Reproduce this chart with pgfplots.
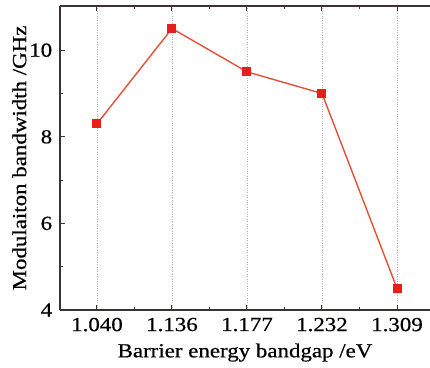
\documentclass[border=0pt]{standalone}
\usepackage{pgfplots}
\pgfplotsset{compat=1.18}
\usepackage{fontspec}
\setmainfont[FakeStretch=1.15, FakeBold=0.6]{Liberation Serif}
\definecolor{lineC}{RGB}{228,80,55}
\definecolor{markC}{RGB}{232,30,30}
\definecolor{axC}{RGB}{60,50,50}
\begin{document}
\fontsize{20}{23}\selectfont
\begin{tikzpicture}
\useasboundingbox (-60bp,-58bp) rectangle (370bp,310bp);
\begin{axis}[
  at={(0,0)}, anchor=south west,
  scale only axis, width=370bp, height=304bp,
  xmin=-0.493, xmax=4.44,
  ymin=4, ymax=11.02,
  axis x line=box, axis y line=left,
  axis line style={axC, line width=1.3pt, -},
  xtick={0,1,2,3,4},
  xticklabels={1.040,1.136,1.177,1.232,1.309},
  ytick={4,6,8,10},
  minor x tick num=1, minor y tick num=1,
  tick align=inside,
  major tick length=5bp, minor tick length=3.5bp,
  every tick/.style={axC, line width=1pt},
  xmajorgrids,
  grid style={gray!60, dotted, line width=0.8pt},
  /pgf/number format/assume math mode=true,
  tick label style={font=\fontsize{20}{23}\selectfont},
  label style={font=\fontsize{20}{23}\selectfont},
  xlabel={Barrier energy bandgap /eV},
  ylabel={Modulaiton bandwidth /GHz},
  xlabel style={at={(axis description cs:0.5,-0.14)}, anchor=center},
  ylabel style={at={(axis description cs:-0.11,0.5)}, anchor=center, rotate=0},
  xticklabel style={yshift=-1bp},
  yticklabel style={xshift=-1bp},
  clip=false,
]
\addplot[color=lineC, line width=1.4pt, mark=square*, mark size=3.8bp,
  mark options={fill=markC, draw=markC}]
  coordinates {(0,8.3) (1,10.5) (2,9.5) (3,9.0) (4,4.5)};
\end{axis}
\end{tikzpicture}
\end{document}
